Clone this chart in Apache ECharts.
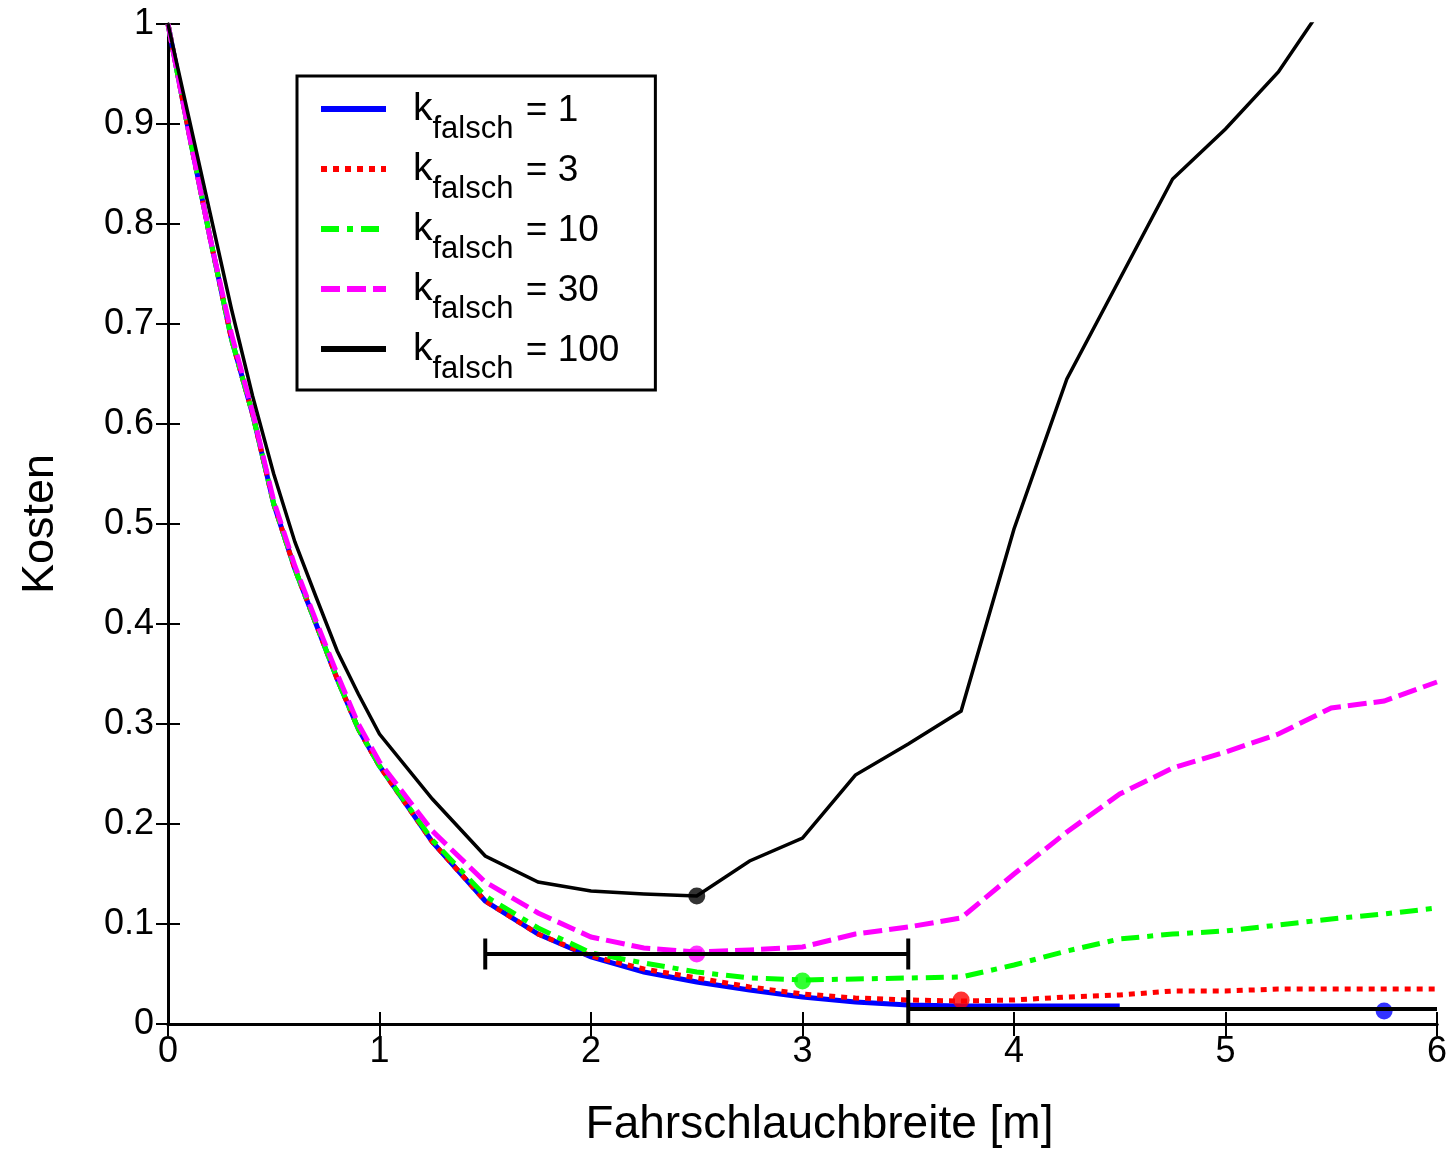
<!DOCTYPE html>
<html>
<head>
<meta charset="utf-8">
<script src="https://cdn.jsdelivr.net/npm/echarts@6/dist/echarts.min.js"></script>
<style>
html,body{margin:0;padding:0;background:#fff;}
#chart{width:1450px;height:1153px;}
</style>
</head>
<body>
<div id="chart"></div>
<script>
// x positions (Fahrschlauchbreite [m])
const xs = [0,0.1,0.2,0.3,0.4,0.5,0.6,0.7,0.8,0.9,1.0,1.25,1.5,1.75,2.0,2.25,2.5,2.75,3.0,3.25,3.5,3.75,4.0,4.25,4.5,4.75,5.0,5.25,5.5,5.75,6.0];
const kValues = [1, 3, 10, 30, 100];
// Kosten per series
const cost1   = [1.0,0.89,0.785,0.685,0.61,0.52,0.455,0.40,0.345,0.295,0.258,0.182,0.123,0.090,0.067,0.052,0.042,0.034,0.027,0.022,0.019,0.018,0.018,0.018,0.018,null,null,null,null,null,null];
const cost3   = [1.0,0.89,0.785,0.685,0.61,0.52,0.455,0.40,0.345,0.295,0.258,0.182,0.123,0.090,0.068,0.055,0.046,0.037,0.030,0.026,0.024,0.023,0.024,0.027,0.029,0.033,0.033,0.035,0.035,0.035,0.035];
const cost10  = [1.0,0.89,0.785,0.685,0.61,0.52,0.455,0.40,0.345,0.295,0.258,0.184,0.128,0.096,0.071,0.061,0.052,0.046,0.044,0.045,0.046,0.047,0.059,0.073,0.085,0.090,0.093,0.099,0.105,0.110,0.116];
const cost30  = [1.0,0.89,0.785,0.69,0.612,0.523,0.458,0.403,0.35,0.30,0.262,0.193,0.142,0.111,0.087,0.076,0.072,0.074,0.077,0.090,0.097,0.106,0.150,0.192,0.230,0.256,0.272,0.290,0.316,0.323,0.342];
const cost100 = [1.0,0.905,0.81,0.715,0.628,0.55,0.482,0.427,0.373,0.33,0.29,0.225,0.168,0.142,0.133,0.130,0.128,0.163,0.186,0.249,0.280,0.313,0.495,0.645,0.745,0.845,0.895,0.952,1.03,null,null];
// optimum markers
const markerX = [5.75, 3.75, 3.0, 2.5, 2.5];
const markerY = [0.013, 0.024, 0.043, 0.070, 0.128];
// range bars: [xLow, xHigh, y, half cap height]
const barLow  = [1.5, 3.5];
const barHigh = [3.5, 6.5];
const barY    = [0.070, 0.015];
const barCap  = [0.0155, 0.019];

const xTicks = [0,1,2,3,4,5,6];
const yTicks = [0,0.1,0.2,0.3,0.4,0.5,0.6,0.7,0.8,0.9,1];

const colors = ['#0000ff', '#ff0000', '#00ff00', '#ff00ff', '#000000'];
const dashes = ['solid', [6,6], [18,8,6,8], [19,7], 'solid'];
const widths = [5, 5, 5, 5, 3.5];
const allCosts = [cost1, cost3, cost10, cost30, cost100];
const names = kValues.map(k => 'k_falsch = ' + k);

const FONT = '"Liberation Sans", Arial, sans-serif';

function pairs(ys){
  const out = [];
  for (let i = 0; i < xs.length; i++) if (ys[i] !== null) out.push([xs[i], ys[i]]);
  return out;
}

const series = [];
allCosts.forEach((c, i) => {
  series.push({
    name: names[i], type: 'line', data: pairs(c),
    symbol: 'none', showSymbol: false, clip: true, z: 2 + i * 0.1,
    itemStyle: {color: colors[i]},
    lineStyle: {color: colors[i], width: widths[i], type: dashes[i], cap: 'butt', join: 'miter'},
    emphasis: {disabled: true}, animation: false
  });
});
series.push({
  name: 'optimum', type: 'scatter', z: 5,
  data: markerX.map((x, i) => ({value: [x, markerY[i]], itemStyle: {color: colors[i]}})),
  symbol: 'circle', symbolSize: 17, animation: false, silent: true
});
series.push({
  name: 'range', type: 'custom', z: 6, clip: true, animation: false, silent: true,
  encode: {x: [0, 1], y: 2},
  data: barLow.map((l, i) => [l, barHigh[i], barY[i], barCap[i]]),
  renderItem: function(params, api){
    const lo = api.coord([api.value(0), api.value(2)]);
    const hi = api.coord([api.value(1), api.value(2)]);
    const ch = api.size([0, api.value(3)])[1];
    const st = {stroke: '#000', lineWidth: 4, fill: null};
    return {type: 'group', children: [
      {type: 'line', shape: {x1: lo[0], y1: lo[1], x2: hi[0], y2: hi[1]}, style: st},
      {type: 'line', shape: {x1: lo[0], y1: lo[1] - ch, x2: lo[0], y2: lo[1] + ch}, style: st},
      {type: 'line', shape: {x1: hi[0], y1: hi[1] - ch, x2: hi[0], y2: hi[1] + ch}, style: st}
    ]};
  }
});

const axisLineStyle = {color: '#000', width: 3};
const tickStyle = {color: '#000', width: 2};

const option = {
  backgroundColor: '#ffffff',
  animation: false,
  textStyle: {fontFamily: FONT},
  grid: {left: 168, right: 9, top: 24, bottom: 127, containLabel: false},
  legend: {
    data: names,
    orient: 'vertical',
    left: 297, top: 76,
    padding: [14, 36, 5, 21],
    itemGap: 5,
    itemWidth: 65, itemHeight: 14,
    borderColor: '#000', borderWidth: 3, backgroundColor: '#fff',
    selectedMode: false,
    lineStyle: {width: 6},
    itemStyle: {opacity: 0, borderWidth: 0, color: 'rgba(0,0,0,0)'},
    formatter: function(name){
      const i = names.indexOf(name);
      return '{k|k}{s|falsch}{e| = ' + kValues[i] + '}';
    },
    textStyle: {
      color: '#000', fontFamily: FONT,
      rich: {
        k: {fontSize: 39, lineHeight: 38, verticalAlign: 'top', padding: [0, 0, 0, 22], fontFamily: FONT, color: '#000'},
        s: {fontSize: 31, lineHeight: 31, verticalAlign: 'top', padding: [24, 0, 0, 0], fontFamily: FONT, color: '#000'},
        e: {fontSize: 37, lineHeight: 38, verticalAlign: 'top', padding: [2, 0, 0, 2], fontFamily: FONT, color: '#000'}
      }
    }
  },
  xAxis: [{
    type: 'value', min: 0, max: 6, interval: 1, position: 'bottom',
    name: 'Fahrschlauchbreite [m]', nameLocation: 'middle', nameGap: 78,
    nameTextStyle: {fontSize: 46, color: '#000', fontFamily: FONT, padding: [0, 0, 0, 34]},
    axisLine: {show: true, lineStyle: axisLineStyle},
    axisTick: {show: true, inside: true, length: 12, lineStyle: tickStyle},
    axisLabel: {show: true, margin: 10, fontSize: 36, color: '#000', fontFamily: FONT,
      formatter: v => xTicks.includes(v) ? String(v) : ''},
    splitLine: {show: false}
  }, {
    type: 'value', min: 0, max: 6, interval: 1, position: 'top',
    axisLine: {show: true, lineStyle: axisLineStyle},
    axisTick: {show: true, inside: true, length: 12, lineStyle: tickStyle},
    axisLabel: {show: false}, splitLine: {show: false}
  }],
  yAxis: [{
    type: 'value', min: 0, max: 1, interval: 0.1, position: 'left',
    name: 'Kosten', nameLocation: 'middle', nameGap: 105,
    nameTextStyle: {fontSize: 45, color: '#000', fontFamily: FONT},
    axisLine: {show: true, lineStyle: axisLineStyle},
    axisTick: {show: true, inside: true, length: 12, lineStyle: tickStyle},
    axisLabel: {show: true, margin: 14, fontSize: 36, color: '#000', fontFamily: FONT,
      formatter: v => {
        const t = yTicks.find(y => Math.abs(y - v) < 1e-9);
        if (t === undefined) return '';
        return (t === 0 || t === 1) ? String(t) : t.toFixed(1);
      }},
    splitLine: {show: false}
  }, {
    type: 'value', min: 0, max: 1, interval: 0.1, position: 'right',
    axisLine: {show: true, lineStyle: axisLineStyle},
    axisTick: {show: true, inside: true, length: 12, lineStyle: tickStyle},
    axisLabel: {show: false}, splitLine: {show: false}
  }],
  series: series
};

const chart = echarts.init(document.getElementById('chart'), null, {renderer: 'canvas'});
chart.setOption(option);
</script>
</body>
</html>
